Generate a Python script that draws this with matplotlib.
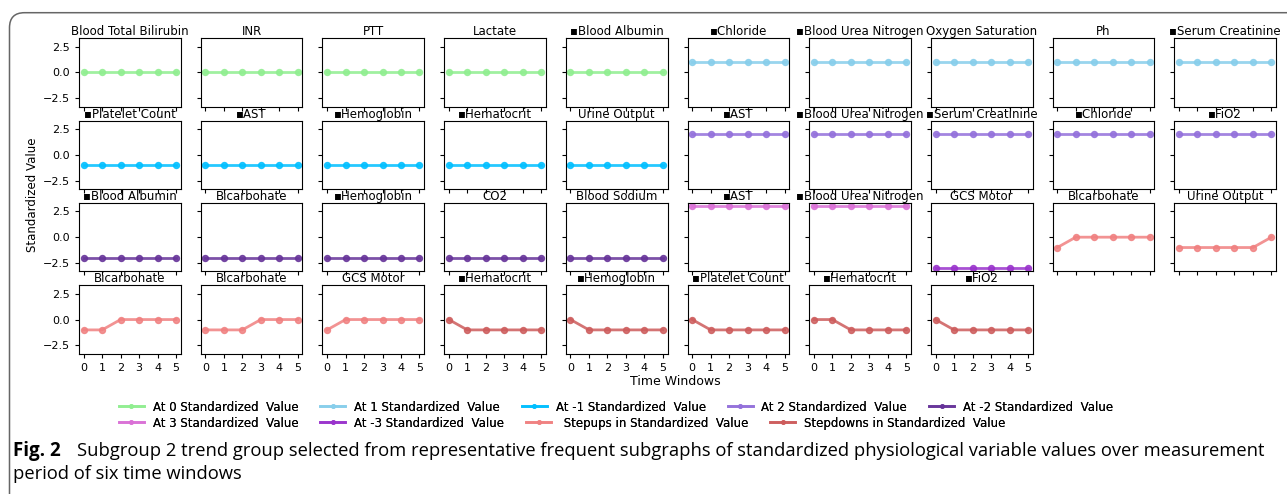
import matplotlib
matplotlib.use('Agg')
import matplotlib.pyplot as plt
from matplotlib.patches import FancyBboxPatch
from matplotlib.lines import Line2D

# time windows
windows = [0, 1, 2, 3, 4, 5]

sq = '\u25aa'
# subgraph titles, row by row
titles = [
    'Blood Total Bilirubin', 'INR', 'PTT', 'Lactate', sq + 'Blood Albumin',
    sq + 'Chloride', sq + 'Blood Urea Nitrogen', 'Oxygen Saturation', 'Ph', sq + 'Serum Creatinine',
    sq + 'Platelet Count', sq + 'AST', sq + 'Hemoglobin', sq + 'Hematocrit', 'Urine Output',
    sq + 'AST', sq + 'Blood Urea Nitrogen', sq + 'Serum Creatinine', sq + 'Chloride', sq + 'FiO2',
    sq + 'Blood Albumin', 'Bicarbonate', sq + 'Hemoglobin', 'CO2', 'Blood Sodium',
    sq + 'AST', sq + 'Blood Urea Nitrogen', 'GCS Motor', 'Bicarbonate', 'Urine Output',
    'Bicarbonate', 'Bicarbonate', 'GCS Motor', sq + 'Hematocrit', sq + 'Hemoglobin',
    sq + 'Platelet Count', sq + 'Hematocrit', sq + 'FiO2',
]

# trend group of each subgraph
groups = [
    'at0', 'at0', 'at0', 'at0', 'at0', 'at1', 'at1', 'at1', 'at1', 'at1',
    'atm1', 'atm1', 'atm1', 'atm1', 'atm1', 'at2', 'at2', 'at2', 'at2', 'at2',
    'atm2', 'atm2', 'atm2', 'atm2', 'atm2', 'at3', 'at3', 'atm3', 'up', 'up',
    'up', 'up', 'up', 'down', 'down', 'down', 'down', 'down',
]

# standardized values per subgraph
values = [
    [0, 0, 0, 0, 0, 0], [0, 0, 0, 0, 0, 0], [0, 0, 0, 0, 0, 0], [0, 0, 0, 0, 0, 0], [0, 0, 0, 0, 0, 0],
    [1, 1, 1, 1, 1, 1], [1, 1, 1, 1, 1, 1], [1, 1, 1, 1, 1, 1], [1, 1, 1, 1, 1, 1], [1, 1, 1, 1, 1, 1],
    [-1, -1, -1, -1, -1, -1], [-1, -1, -1, -1, -1, -1], [-1, -1, -1, -1, -1, -1], [-1, -1, -1, -1, -1, -1], [-1, -1, -1, -1, -1, -1],
    [2, 2, 2, 2, 2, 2], [2, 2, 2, 2, 2, 2], [2, 2, 2, 2, 2, 2], [2, 2, 2, 2, 2, 2], [2, 2, 2, 2, 2, 2],
    [-2, -2, -2, -2, -2, -2], [-2, -2, -2, -2, -2, -2], [-2, -2, -2, -2, -2, -2], [-2, -2, -2, -2, -2, -2], [-2, -2, -2, -2, -2, -2],
    [3, 3, 3, 3, 3, 3], [3, 3, 3, 3, 3, 3], [-3, -3, -3, -3, -3, -3],
    [-1, 0, 0, 0, 0, 0], [-1, -1, -1, -1, -1, 0],
    [-1, -1, 0, 0, 0, 0], [-1, -1, -1, 0, 0, 0], [-1, 0, 0, 0, 0, 0],
    [0, -1, -1, -1, -1, -1], [0, -1, -1, -1, -1, -1], [0, -1, -1, -1, -1, -1],
    [0, 0, -1, -1, -1, -1], [0, -1, -1, -1, -1, -1],
]

group_colors = {
    'at0': 'lightgreen', 'at1': 'skyblue', 'atm1': 'deepskyblue', 'at2': 'mediumpurple',
    'atm2': 'rebeccapurple', 'at3': 'orchid', 'atm3': 'darkorchid',
    'up': 'lightcoral', 'down': 'indianred',
}
group_labels = {
    'at0': 'At 0 Standardized  Value', 'at1': 'At 1 Standardized  Value',
    'atm1': 'At -1 Standardized  Value', 'at2': 'At 2 Standardized  Value',
    'atm2': 'At -2 Standardized  Value', 'at3': 'At 3 Standardized  Value',
    'atm3': 'At -3 Standardized  Value', 'up': ' Stepups in Standardized  Value',
    'down': 'Stepdowns in Standardized  Value',
}

fig, axes = plt.subplots(4, 10, sharex=True, sharey=True, figsize=(12.87, 4.94), dpi=100)
fig.subplots_adjust(left=0.0614, right=0.9915, top=0.9225, bottom=0.284, wspace=0.197, hspace=0.206)

for i, ax in enumerate(axes.flat):
    if i >= len(titles):
        ax.axis('off')
        continue
    c = group_colors[groups[i]]
    ax.plot(windows, values[i], color=c, marker='o', markersize=4.3, linewidth=2, alpha=0.85)
    ax.set_title(titles[i], fontsize=8.5, pad=2)
    ax.tick_params(labelsize=8, length=3)

axes[0, 0].set_yticks([-2.5, 0, 2.5])
axes[0, 0].set_xticks(windows)
# no panels below cols 8, 9 of row 3, but keep their labels hidden like the rest
for j in (8, 9):
    axes[2, j].tick_params(labelbottom=False)

fig.text(0.025, 0.605, 'Standardized Value', rotation=90, va='center', ha='center', fontsize=8.5)
fig.text(0.525, 0.228, 'Time Windows', ha='center', va='center', fontsize=9)

row1 = ['at0', 'at1', 'atm1', 'at2', 'atm2']
row2 = ['at3', 'atm3', 'up', 'down']
for keys, y in ((row1, 0.176), (row2, 0.1437)):
    handles = [Line2D([], [], color=group_colors[k], marker='o', markersize=2.5, linewidth=2, alpha=0.85)
               for k in keys]
    leg = fig.legend(handles, [group_labels[k] for k in keys], loc='center left',
                     bbox_to_anchor=(0.0925, y), ncol=len(keys), frameon=False, fontsize=8.5,
                     handlelength=2.1, columnspacing=1.86, handletextpad=0.76, borderpad=0, borderaxespad=0)
    fig.add_artist(leg)

# caption frame (cut off at right and bottom like the page)
frame = FancyBboxPatch((0.095, -1.0), 13.5, 5.813, boxstyle='round,pad=0,rounding_size=0.15',
                       transform=fig.dpi_scale_trans, facecolor='none', edgecolor='#666666', linewidth=1.1)
fig.patches.append(frame)
fig.text(0.010, 0.087, 'Fig. 2', fontsize=13.5, fontweight='bold', family='Open Sans', va='center')
fig.text(0.060, 0.087, 'Subgroup 2 trend group selected from representative frequent subgraphs of standardized '
         'physiological variable values over measurement', fontsize=13.2, family='Open Sans', va='center')
fig.text(0.010, 0.0405, 'period of six time windows', fontsize=13.2, family='Open Sans', va='center')

fig.savefig('out.png', dpi=100)
